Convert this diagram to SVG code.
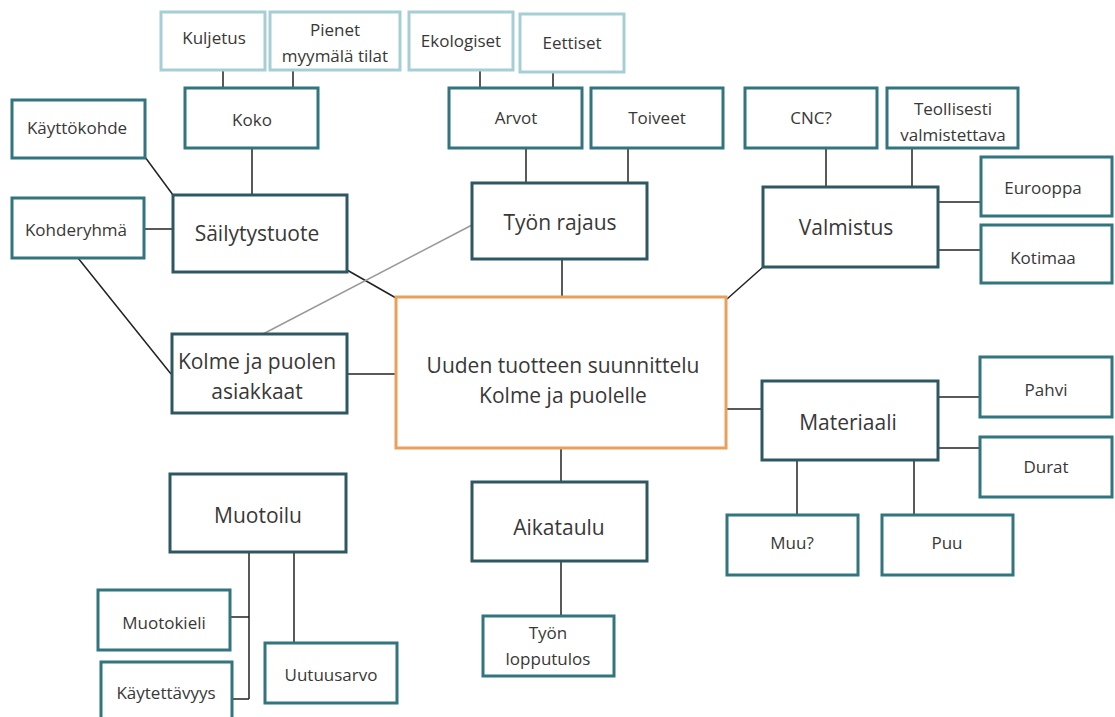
<svg xmlns="http://www.w3.org/2000/svg" width="1115" height="717" viewBox="0 0 1115 717">
<style>
rect{fill:#fff;stroke-width:3}
.main rect{stroke:#2d5862}
.sub rect{stroke:#31757e}
.lite rect{stroke:#a6cfd5}
.center rect{stroke:#eaa05a}
text{font-family:"Open Sans","Noto Sans","DejaVu Sans",sans-serif;fill:#383838;text-anchor:middle}
.main text,.center text{font-size:21px}
.sub text,.lite text{font-size:17px}
#connectors line{stroke:#222;stroke-width:1.5}
#connectors line.gray{stroke:#999}
</style>
<rect x="0" y="0" width="1115" height="717" fill="#fff" stroke="none"/>
<g id="connectors">
<line x1="223" y1="70" x2="223" y2="88"/>
<line x1="293" y1="70" x2="293" y2="88"/>
<line x1="252" y1="148" x2="252" y2="195"/>
<line x1="145" y1="157" x2="173" y2="195"/>
<line x1="144" y1="229" x2="173" y2="229"/>
<line x1="78" y1="258" x2="171" y2="374"/>
<line x1="347" y1="270" x2="396" y2="298"/>
<line class="gray" x1="263" y1="334" x2="472" y2="225"/>
<line x1="347" y1="374" x2="396" y2="374"/>
<line x1="480" y1="70" x2="480" y2="88"/>
<line x1="553" y1="72" x2="553" y2="88"/>
<line x1="526" y1="148" x2="526" y2="183"/>
<line x1="628" y1="148" x2="628" y2="183"/>
<line x1="562" y1="259" x2="562" y2="297"/>
<line x1="826" y1="148" x2="826" y2="187"/>
<line x1="912" y1="148" x2="912" y2="187"/>
<line x1="938" y1="202" x2="981" y2="202"/>
<line x1="938" y1="250" x2="981" y2="250"/>
<line x1="763" y1="267" x2="727" y2="299"/>
<line x1="726" y1="409" x2="762" y2="409"/>
<line x1="938" y1="397" x2="980" y2="397"/>
<line x1="938" y1="448" x2="980" y2="448"/>
<line x1="797" y1="460" x2="797" y2="515"/>
<line x1="914" y1="460" x2="914" y2="515"/>
<line x1="561" y1="448" x2="561" y2="482"/>
<line x1="561" y1="561" x2="561" y2="616"/>
<line x1="249" y1="552" x2="249" y2="699"/>
<line x1="230" y1="617" x2="249" y2="617"/>
<line x1="232" y1="699" x2="249" y2="699"/>
<line x1="294" y1="552" x2="294" y2="643"/>
</g>
<g id="center" class="center"><rect x="396" y="297" width="330" height="151"/><text x="563" y="373">Uuden tuotteen suunnittelu</text><text x="563" y="403">Kolme ja puolelle</text></g>
<g id="kuljetus" class="lite"><rect x="161" y="12" width="104" height="58"/><text x="214" y="44">Kuljetus</text></g>
<g id="pienet" class="lite"><rect x="270" y="12" width="130" height="58"/><text x="335" y="36">Pienet</text><text x="335" y="62">myymälä tilat</text></g>
<g id="ekologiset" class="lite"><rect x="409" y="12" width="104" height="58"/><text x="461" y="47">Ekologiset</text></g>
<g id="eettiset" class="lite"><rect x="520" y="14" width="104" height="58"/><text x="572" y="49">Eettiset</text></g>
<g id="koko" class="sub"><rect x="185" y="88" width="133" height="60"/><text x="252" y="126">Koko</text></g>
<g id="kayttokohde" class="sub"><rect x="12" y="100" width="133" height="58"/><text x="77" y="134">Käyttökohde</text></g>
<g id="kohderyhma" class="sub"><rect x="12" y="198" width="132" height="60"/><text x="76" y="236">Kohderyhmä</text></g>
<g id="sailytystuote" class="main"><rect x="173" y="195" width="174" height="77"/><text x="257" y="241">Säilytystuote</text></g>
<g id="kolme" class="main"><rect x="172" y="334" width="175" height="79"/><text x="257" y="369">Kolme ja puolen</text><text x="257" y="399">asiakkaat</text></g>
<g id="arvot" class="sub"><rect x="449" y="88" width="133" height="60"/><text x="516" y="124">Arvot</text></g>
<g id="toiveet" class="sub"><rect x="591" y="88" width="132" height="60"/><text x="657" y="124">Toiveet</text></g>
<g id="tyon-rajaus" class="main"><rect x="472" y="183" width="175" height="76"/><text x="560" y="230">Työn rajaus</text></g>
<g id="cnc" class="sub"><rect x="745" y="88" width="132" height="60"/><text x="811" y="124">CNC?</text></g>
<g id="teollisesti" class="sub"><rect x="887" y="88" width="131" height="60"/><text x="953" y="115">Teollisesti</text><text x="953" y="141">valmistettava</text></g>
<g id="valmistus" class="main"><rect x="763" y="187" width="175" height="80"/><text x="846" y="235">Valmistus</text></g>
<g id="eurooppa" class="sub"><rect x="981" y="157" width="131" height="59"/><text x="1043" y="194">Eurooppa</text></g>
<g id="kotimaa" class="sub"><rect x="981" y="225" width="131" height="58"/><text x="1043" y="264">Kotimaa</text></g>
<g id="materiaali" class="main"><rect x="762" y="381" width="176" height="79"/><text x="848" y="430">Materiaali</text></g>
<g id="pahvi" class="sub"><rect x="980" y="357" width="132" height="60"/><text x="1046" y="396">Pahvi</text></g>
<g id="durat" class="sub"><rect x="980" y="437" width="132" height="60"/><text x="1046" y="473">Durat</text></g>
<g id="muu" class="sub"><rect x="727" y="515" width="131" height="60"/><text x="792" y="549">Muu?</text></g>
<g id="puu" class="sub"><rect x="882" y="515" width="131" height="60"/><text x="947" y="549">Puu</text></g>
<g id="aikataulu" class="main"><rect x="472" y="482" width="175" height="79"/><text x="559" y="535">Aikataulu</text></g>
<g id="tyon-lopputulos" class="sub"><rect x="483" y="616" width="131" height="60"/><text x="548" y="639">Työn</text><text x="548" y="665">lopputulos</text></g>
<g id="muotoilu" class="main"><rect x="170" y="474" width="176" height="78"/><text x="258" y="523">Muotoilu</text></g>
<g id="muotokieli" class="sub"><rect x="98" y="590" width="132" height="60"/><text x="164" y="629">Muotokieli</text></g>
<g id="kaytettavyys" class="sub"><rect x="101" y="662" width="131" height="60"/><text x="166" y="699">Käytettävyys</text></g>
<g id="uutuusarvo" class="sub"><rect x="265" y="643" width="132" height="60"/><text x="331" y="681">Uutuusarvo</text></g>
</svg>
